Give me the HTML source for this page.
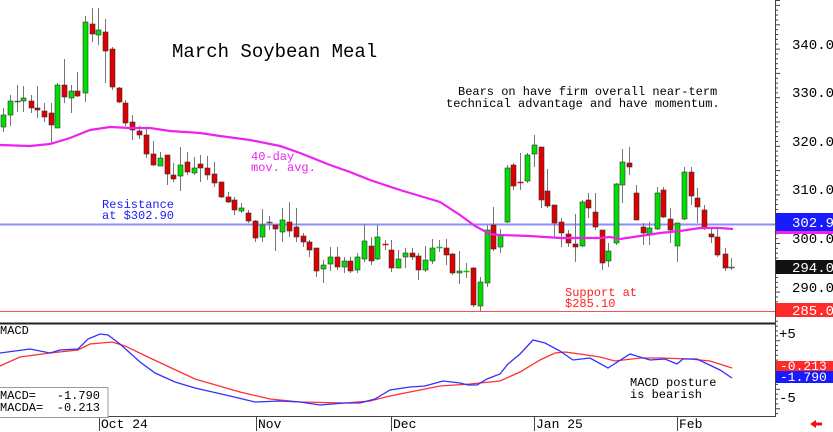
<!DOCTYPE html>
<html><head><meta charset="utf-8"><style>
html,body{margin:0;padding:0;background:#fff;width:833px;height:432px;overflow:hidden}
svg text{font-family:"Liberation Mono",monospace}
</style></head><body>
<svg id="s" width="833" height="432" xmlns="http://www.w3.org/2000/svg">
<rect width="833" height="432" fill="#fff"/>
<line x1="0" y1="224.5" x2="775" y2="224.5" stroke="#8c8cff" stroke-width="2"/>
<line x1="0" y1="311.5" x2="775" y2="311.5" stroke="#ff5050" stroke-width="1"/>
<g id="candles"></g>
<polyline fill="none" stroke="#ee22ee" stroke-width="2.2" points="0,145 30,146 50,144 70,138 90,130 110,127 130,128 150,128 170,131 200,133 220,136 250,140 280,146 300,153 330,165 350,172 370,180 400,190 420,196 440,202 460,215 475,226 490,234 500,235 530,236 560,238 600,238 610,237 620,239 640,236 660,233 680,231 700,228 720,228 733,229"/>
<line x1="775.5" y1="0" x2="775.5" y2="417" stroke="#444" stroke-width="1"/>
<line x1="0" y1="323.5" x2="775" y2="323.5" stroke="#222" stroke-width="2"/>
<line x1="0" y1="416.5" x2="775" y2="416.5" stroke="#444" stroke-width="1"/>
<g stroke="#444"><line x1="99.5" y1="416" x2="99.5" y2="431"/><line x1="256.5" y1="416" x2="256.5" y2="431"/><line x1="391.5" y1="416" x2="391.5" y2="431"/><line x1="534.5" y1="416" x2="534.5" y2="431"/><line x1="677.5" y1="416" x2="677.5" y2="431"/></g>
<g id="ticks"></g>
<polyline fill="none" stroke="#ff3030" stroke-width="1.3" points="0,366 20,357 50,353 78,350 90,344 112,342 125,346 150,358 195,379 240,392 270,399 300,402 345,403 370,401 390,396 410,392 440,386 470,384 500,381 520,372 540,360 555,353 565,352 580,354 600,357 615,361 640,358 660,358 690,359 710,361 732,368"/>
<polyline fill="none" stroke="#3030ff" stroke-width="1.3" points="0,353 30,349 50,353 60,350 78,349 88,339 100,334 108,335 120,344 140,362 155,373 175,382 195,388 230,396 255,402 280,401 300,402 320,405 345,403 360,403 375,399 385,393 390,390 410,387 425,386 443,381 460,383 468,385 477,385 487,379 500,374 508,364 520,354 533,340 545,343 560,351 573,360 590,358 608,368 630,354 650,360 665,359 677,364 683,359 697,359 720,370 732,378"/>
<rect x="-1" y="387.5" width="109" height="30" fill="#fff" stroke="#999"/>
<g font-size="12" fill="#000">
<text x="0" y="334">MACD</text>
<text x="0" y="399">MACD=</text><text x="100" y="399" text-anchor="end">-1.790</text>
<text x="0" y="411">MACDA=</text><text x="100" y="411" text-anchor="end">-0.213</text>
<text x="630" y="386">MACD posture</text>
<text x="630" y="398"> is bearish</text>
</g>
<text x="172" y="57" font-size="19" fill="#000">March Soybean Meal</text>
<g font-size="12" fill="#000"><text x="458" y="95">Bears on have firm overall near-term</text><text x="446" y="107">technical advantage and have momentum.</text></g>
<g font-size="12" fill="#2020ee"><text x="102" y="208">Resistance</text><text x="102" y="219">at $302.90</text></g>
<g font-size="12" fill="#ee22ee"><text x="251" y="160">40-day</text><text x="251" y="171">mov. avg.</text></g>
<g font-size="12" fill="#ff2020"><text x="565" y="296">Support at</text><text x="565" y="307">$285.10</text></g>
<g font-size="13" fill="#000"><text x="101" y="428">Oct 24</text><text x="258" y="428">Nov</text><text x="393" y="428">Dec</text><text x="536" y="428">Jan 25</text><text x="679" y="428">Feb</text></g>
<g font-size="14" fill="#000"><text x="792" y="49">340.0</text><text x="792" y="97">330.0</text><text x="792" y="146">320.0</text><text x="792" y="194">310.0</text><text x="792" y="243">300.0</text><text x="792" y="292">290.0</text>
<text x="779" y="338">+5</text><text x="779" y="402">-5</text></g>
<rect x="776" y="213" width="57" height="18" fill="#1a1aff"/>
<rect x="776" y="231" width="57" height="3" fill="#ee22ee"/>
<text x="792" y="227" font-size="14" fill="#fff">302.9</text>
<rect x="776" y="260" width="57" height="14" fill="#111"/>
<text x="792" y="272" font-size="14" fill="#fff">294.0</text>
<rect x="776" y="303" width="57" height="14" fill="#ff2a2a"/>
<text x="792" y="315" font-size="14" fill="#fff">285.0</text>
<rect x="776" y="361" width="57" height="10" fill="#ff2a2a"/>
<rect x="776" y="371" width="57" height="12" fill="#1a1aff"/>
<text x="780" y="370" font-size="13" fill="#fff">-0.213</text>
<text x="780" y="381" font-size="13" fill="#fff">-1.790</text>
<polygon points="810,424 816,420 816,422.5 822,422.5 822,425.5 816,425.5 816,428" fill="#ee1111"/>
</svg>
<script>
var C=[[3.3,'g',115,127,108,132],[10,'g',101,115,95,126],[16.7,'d',101,101,85,112],[23.3,'g',98,101,86,112],[30.7,'r',101,108,95,113],[37.3,'r',108,110,86,118],[44,'r',111,117,103,122],[50.7,'r',113,125,103,143],[57.3,'g',85,128,83,128],[64,'r',85,97,59,103],[70.7,'g',91,98,85,113],[77.3,'r',91,96,72,97],[85,'g',22,93,16,102],[91.7,'r',24,34,8,42],[98.3,'g',30,35,8,45],[105.3,'r',32,51,19,83],[112,'r',49,87,47,90],[118.7,'r',88,102,87,103],[125.3,'r',103,123,100,126],[132.3,'r',122,130,115,140],[139.3,'r',131,135,126,139],[145.7,'r',135,154,127,158],[152.7,'r',154,165,141,166],[160,'g',158,166,152,166],[166.7,'r',155,174,155,185],[173.3,'r',175,179,163,182],[180,'g',165,176,147,191],[186.7,'r',162,172,152,175],[194,'g',168,173,157,175],
[200,'r',164,168,155,182],[207.3,'r',168,175,156,180],[214,'r',174,183,162,187],[220.7,'r',182,197,182,198],[227.7,'r',197,202,192,203],[234.3,'r',200,210,197,215],[241.3,'g',208,211,203,213],[248.3,'r',213,221,210,223],[255,'r',221,238,220,242],[261.7,'g',225,237,209,242],[268.7,'d',222,222,216,230],[275.3,'r',225,229,225,251],[282,'g',220,232,208,242],[288.7,'r',222,231,202,237],[295.7,'r',227,237,208,242],[302.7,'r',236,242,233,247],[309.3,'r',242,250,240,257],[316,'r',248,271,248,277],[322.7,'g',265,269,260,283],[329.7,'g',257,264,247,271],[336.7,'r',257,267,247,270],[343.7,'g',261,267,257,273],[350.3,'r',261,271,257,273],[356.7,'g',257,270,253,273],[363.7,'g',241,259,224,262],[370.7,'r',246,261,237,265],[377.3,'g',237,259,225,260],[384.7,'dr',244,244,240,250],[391,'r',250,268,240,272],[398,'g',259,268,250,268],[404.7,'g',253,257,248,268],[411.7,'r',253,257,248,260],[418.3,'r',256,270,253,280],[425,'g',260,270,246,272],[432,'g',248,261,239,264],[438.7,'dg',247,247,240,252],[445.7,'r',248,255,239,265],[452.3,'r',254,273,253,275],[459,'g',271,273,251,284],[465.7,'dg',271,271,263,278],
[473,'r',268,305,267,307],[480,'g',282,306,277,311],[487,'g',230,283,225,287],[493,'r',225,249,207,251],[500,'g',235,247,229,253],[507,'g',168,222,165,223],[513,'r',165,186,163,190],[520,'dr',182,182,153,190],[527,'g',155,181,153,183],[534,'g',145,154,135,167],[541,'r',147,200,147,208],[547,'r',191,206,169,208],[554,'r',205,223,205,237],[561,'r',222,233,218,247],[568,'r',234,243,230,247],[575,'r',244,247,214,262],[582,'g',202,246,200,247],[588,'r',200,208,193,218],[595,'r',212,227,193,230],[602,'r',230,263,230,270],[608,'g',251,261,243,267],[616,'g',184,243,183,245],[622,'g',162,185,149,203],[629,'r',163,167,147,175],[636,'r',193,220,185,220],[643,'r',227,233,223,245],[649,'g',228,234,222,245],[657,'g',193,229,187,230],[663,'r',190,217,187,218],[670,'r',219,230,208,243],[677,'g',223,246,223,262],[684,'g',172,219,167,220],[691,'r',172,196,167,205],[697,'r',198,207,188,223],[704,'r',210,228,205,230],[711,'r',234,237,227,243],[717,'r',237,255,227,257],[725,'r',254,268,248,271],[731,'d',267,267,258,270]];
var ns="http://www.w3.org/2000/svg",g=document.getElementById('candles');
function el(t,a){var e=document.createElementNS(ns,t);for(var k in a)e.setAttribute(k,a[k]);g.appendChild(e);return e;}
C.forEach(function(c){var x=Math.round(c[0])+0.5;
el('line',{x1:x,x2:x,y1:c[4],y2:c[5],stroke:'#777','stroke-width':1});
if(c[1]=='g'||c[1]=='r'){el('rect',{x:x-2.5,y:c[2],width:5,height:Math.max(2,c[3]-c[2]),fill:c[1]=='g'?'#00dd00':'#dd0000',stroke:'#333','stroke-width':0.6});}
else{var col=c[1]=='dr'?'#dd0000':(c[1]=='dg'?'#00cc00':'#555');el('line',{x1:x-3,x2:x+3,y1:c[2]+0.5,y2:c[2]+0.5,stroke:col,'stroke-width':1.5});}
});
var t=document.getElementById('ticks');
for(var y=0;y<417;y+=4.86){var e=document.createElementNS(ns,'line');e.setAttribute('x1',775);e.setAttribute('x2',y%24<5?780:778);e.setAttribute('y1',y+0.5);e.setAttribute('y2',y+0.5);e.setAttribute('stroke','#444');t.appendChild(e);}
</script>
</body></html>
